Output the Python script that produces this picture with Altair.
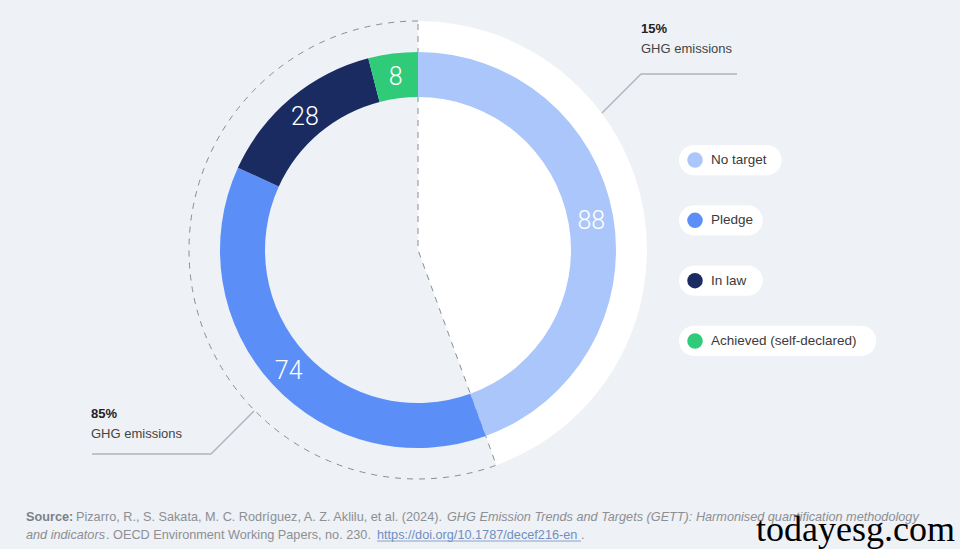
import altair as alt
import pandas as pd

# ---- data ----
statuses = ["No target", "Pledge", "In law", "Achieved (self-declared)"]
counts = [88, 74, 28, 8]
colors = ["#abc6fa", "#5b8ff7", "#1a2b62", "#2fcb78"]
emission_shares = ["15%", "85%"]
emission_label = "GHG emissions"

source_bold = "Source:"
source_l1_reg = "Pizarro, R., S. Sakata, M. C. Rodríguez, A. Z. Aklilu, et al. (2024)."
source_l1_it = "GHG Emission Trends and Targets (GETT): Harmonised quantification methodology"
source_l2_it = "and indicators"
source_l2_reg = ". OECD Environment Working Papers, no. 230."
source_link = "https://doi.org/10.1787/decef216-en"
watermark = "todayesg.com"

df = pd.DataFrame({"status": statuses, "count": counts, "ord": list(range(len(statuses)))})

CX, CY = 418, 250
FONT = "Liberation Sans"
BG = "#eef1f5"

base = alt.Chart(df)

grouped = base.transform_calculate(
    grp="datum.status === 'No target' ? 'a' : 'b'"
).transform_aggregate(total="sum(count)", groupby=["grp"])

white_sector = grouped.mark_arc(outerRadius=229, innerRadius=0).encode(
    theta=alt.Theta("total:Q", stack=True),
    order=alt.Order("grp:N"),
    fill=alt.condition("datum.grp === 'a'", alt.value("#ffffff"), alt.value(BG)),
    fillOpacity=alt.condition("datum.grp === 'a'", alt.value(1), alt.value(0)),
    x=alt.value(CX), y=alt.value(CY),
)

dashed_sector = grouped.mark_arc(
    outerRadius=229, innerRadius=0, fillOpacity=0, stroke="#8a8d92",
    strokeWidth=1, strokeDash=[6, 6]
).encode(
    theta=alt.Theta("total:Q", stack=True),
    order=alt.Order("grp:N"),
    strokeOpacity=alt.condition("datum.grp === 'b'", alt.value(1), alt.value(0)),
    x=alt.value(CX), y=alt.value(CY),
)

donut = base.mark_arc(innerRadius=153, outerRadius=198).encode(
    theta=alt.Theta("count:Q", stack=True),
    order=alt.Order("ord:Q"),
    color=alt.Color("status:N", scale=alt.Scale(domain=statuses, range=colors), legend=None),
    x=alt.value(CX), y=alt.value(CY),
)

labels = base.mark_text(radius=176, fontSize=25, fontWeight=300, font="Roboto", color="white").encode(
    theta=alt.Theta("count:Q", stack=True),
    order=alt.Order("ord:Q"),
    text=alt.Text("count:Q"),
    x=alt.value(CX), y=alt.value(CY + 2),
)

# ---- legend pills ----
ybase = alt.Y("status:N", sort=statuses, axis=None,
              scale=alt.Scale(type="band", range=[145, 356], paddingInner=0.5, paddingOuter=0))
leg = base.transform_calculate(
    x0="679", x1="711 + length(datum.status) * 6.3 + 14"
)
pills = leg.mark_rect(color="white", cornerRadius=15).encode(
    y=ybase,
    x=alt.X("x0:Q", scale=None, axis=None),
    x2=alt.X2("x1:Q"),
)
dots = leg.mark_circle(size=240, opacity=1).encode(
    y=ybase,
    x=alt.value(695),
    color=alt.Color("status:N", scale=alt.Scale(domain=statuses, range=colors), legend=None),
)
leg_text = leg.mark_text(align="left", baseline="middle", font=FONT, fontSize=13.5, color="#3a3a3a").encode(
    y=ybase, x=alt.value(711), text="status:N"
)

# ---- annotations ----
one = alt.Chart(pd.DataFrame({"k": [0]}))

def txt(t, x, y, size=13, weight="normal", style="normal", color="#444", font=FONT):
    return one.mark_text(text=t, align="left", baseline="alphabetic", fontSize=size,
                         fontWeight=weight, fontStyle=style, color=color, font=font).encode(
        x=alt.value(x), y=alt.value(y))

def seg(x1, y1, x2, y2, color="#b0b4ba", w=1.5):
    return one.mark_rule(color=color, strokeWidth=w).encode(
        x=alt.value(x1), y=alt.value(y1), x2=alt.value(x2), y2=alt.value(y2))

ann = [
    txt(emission_shares[0], 641, 33, weight="bold", color="#222"),
    txt(emission_label, 641, 53),
    seg(602, 113, 641, 74), seg(641, 74, 737, 74),
    txt(emission_shares[1], 91, 418, weight="bold", color="#222"),
    txt(emission_label, 91, 438),
    seg(92, 454, 211, 454), seg(211, 454, 254, 411),
]

src_col = "#8c8f94"
SS = 12.7
src = [
    txt(source_bold, 26, 521, size=SS, weight="bold", color="#7d8085"),
    txt(source_l1_reg, 76, 521, size=SS, color=src_col),
    txt(source_l1_it, 447, 521, size=SS, style="italic", color=src_col),
    txt(source_l2_it, 26, 539, size=SS, style="italic", color=src_col),
    txt(source_l2_reg, 106, 539, size=SS, color=src_col),
    txt(source_link, 377, 539, size=SS, color="#6f8fc0"),
    seg(377, 541, 581, 541, color="#6f8fc0", w=0.8),
    txt(".", 581, 539, size=SS, color=src_col),
    txt(watermark, 756, 541, size=36, color="#000", font="Liberation Serif"),
]

chart = alt.layer(
    white_sector, dashed_sector, donut, labels, pills, dots, leg_text, *ann, *src
).properties(
    width=960, height=549, autosize="none", padding=0, background=BG
).configure_view(strokeWidth=0)

chart.save("out.html", embed_options={"renderer": "svg", "actions": False})
